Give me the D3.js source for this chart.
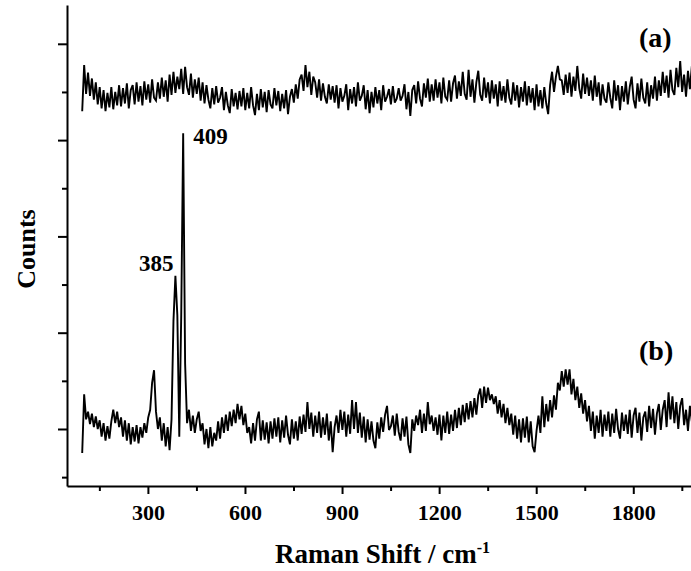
<!DOCTYPE html>
<html>
<head>
<meta charset="utf-8">
<script src="https://cdn.jsdelivr.net/npm/d3@7"></script>
<style>
html,body{margin:0;padding:0;background:#fff;}
svg{display:block;}
text{font-family:"Liberation Serif","Times New Roman",serif;font-weight:bold;fill:#000;}
</style>
</head>
<body>
<svg id="chart" width="691" height="571"></svg>
<script>
// Raman shift sampling (cm-1): first sample and spacing
const shiftStart = 97;
const shiftStep = 6;

// spectrum (a), counts (arbitrary units)
const countsA = [
330,378,348,370,346,364,342,360,337,355,
333,352,330,349,334,355,332,350,336,357,
335,354,338,359,333,352,357,337,360,340,
356,336,361,342,358,339,363,344,341,360,
343,365,345,362,340,368,347,371,349,366,
353,374,348,376,355,347,369,344,363,348,
365,341,360,338,357,342,333,354,337,356,
339,344,355,331,350,336,328,353,335,349,
332,351,335,354,331,349,333,355,336,326,
348,331,353,334,350,329,352,337,333,354,
336,351,330,348,333,352,327,345,353,339,
358,343,363,368,351,378,355,371,347,366,
360,344,363,341,359,345,338,358,342,356,
339,357,333,354,340,346,358,331,353,338,
355,335,360,341,346,357,332,352,328,350,
334,355,338,352,331,357,340,345,353,337,
356,339,343,354,341,346,358,332,350,325,
352,357,338,361,343,335,359,344,364,340,
358,341,363,344,360,338,365,345,342,362,
340,359,367,343,361,346,371,348,342,373,
345,363,339,360,372,347,341,365,344,360,
338,362,343,358,335,361,341,356,339,363,
344,337,360,341,357,334,355,340,361,336,
356,339,354,331,358,335,352,333,355,338,
327,357,371,350,366,377,363,362,347,368,
349,370,345,366,351,377,354,343,369,348,
365,346,362,341,367,345,360,336,358,343,
339,360,344,333,362,341,357,331,356,340,
361,337,355,366,342,333,359,340,364,344,
338,360,335,357,343,366,341,362,346,371,
349,367,344,373,352,347,375,355,382,350,
368,345,372,353,377,351,370,355
];

// spectrum (b), counts (arbitrary units)
const countsB = [
-25,36,10,18,5,16,2,13,0,9,
-8,6,-12,3,-10,8,20,6,18,2,
12,-8,9,-12,6,-16,2,-13,4,-15,
2,-9,6,-4,12,20,48,61,18,0,
12,-12,6,-18,2,-22,10,112,159,118,
-8,118,307,68,6,20,-2,14,-4,10,
18,-2,6,-16,0,-20,2,-18,-4,-12,
8,-10,12,-4,15,-2,18,3,20,6,
26,10,24,4,16,-4,2,-15,6,-12,
10,18,-12,9,-11,7,-15,8,-10,11,
-8,12,-14,9,-9,14,-6,-16,10,-10,
8,-12,13,-5,15,-3,28,0,17,-8,
14,-4,18,-9,12,-6,16,-12,8,-24,
2,14,-4,20,-1,18,-8,15,-5,30,
0,28,-4,17,-9,13,-14,10,-11,8,
-12,-20,7,-10,12,-3,15,24,-1,3,
14,-7,16,-3,-12,11,-8,13,-16,-25,
10,-2,14,4,20,-4,16,-2,28,5,
14,-2,12,-6,15,-12,14,-4,18,-5,
15,-2,20,1,22,4,25,7,27,10,
29,12,32,15,35,42,22,44,27,43,
30,36,26,34,16,30,12,26,6,22,
4,16,-6,14,-10,10,-14,11,-9,13,
-14,8,-18,-24,-2,14,-4,34,2,26,
8,30,12,35,20,48,40,60,44,62,
46,62,36,52,30,44,22,37,16,30,
8,24,-2,18,-10,14,-4,20,-8,15,
-2,18,-8,16,-4,21,0,-10,17,-2,
15,-5,20,-9,14,22,-4,17,-12,12,
18,-3,24,1,21,-6,16,26,-1,20,
30,2,38,10,34,6,28,0,24,32,
4,20,-2,24,8,26,12,22
];

// axis ticks
const xMajorTicks = [300, 600, 900, 1200, 1500, 1800];
const xMinorTicks = [150, 450, 750, 1050, 1350, 1650, 1950];
const yMajorTicks = [0, 100, 200, 300, 400];
const yMinorTicks = [-50, 50, 150, 250, 350];

// annotations
const peakLabels = ["385", "409"];
const peakShifts = [385, 409];
const peakCounts = [159, 307];
const seriesLabels = ["(a)", "(b)"];
const seriesLabelCounts = [397, 72];

(function () {
const svg = d3.select("#chart");
const mLeft = 67, mRight = 698, mTop = 5, mBottom = 486;

const x = d3.scaleLinear().domain([50, 2000]).range([mLeft, mRight]);
const y = d3.scaleLinear().domain([-59.2, 440.3]).range([mBottom, mTop]);

const ramanShift = countsA.map((_, i) => shiftStart + i * shiftStep);

const line = d3.line()
  .x((d, i) => x(ramanShift[i]))
  .y(d => y(d));

// spectra
[countsA, countsB].forEach(s => {
  svg.append("path")
    .datum(s)
    .attr("fill", "none")
    .attr("stroke", "#000")
    .attr("stroke-width", 1.9)
    .attr("stroke-linejoin", "miter")
    .attr("stroke-miterlimit", 3)
    .attr("d", line);
});

// x axis
const xAxis = svg.append("g").attr("transform", `translate(0,${mBottom})`);
xAxis.call(d3.axisBottom(x).tickValues(xMajorTicks).tickFormat(d3.format("d"))
  .tickSize(8).tickPadding(10).tickSizeOuter(0));
xAxis.append("g").call(d3.axisBottom(x).tickValues(xMinorTicks).tickSize(5).tickFormat("").tickSizeOuter(0))
  .select(".domain").remove();
xAxis.selectAll("text")
  .style("font-size", "22px")
  .style("font-family", '"Liberation Serif","Times New Roman",serif')
  .style("font-weight", "bold");

// y axis
const yAxis = svg.append("g").attr("transform", `translate(${mLeft},0)`);
yAxis.call(d3.axisLeft(y).tickValues(yMajorTicks).tickSize(9).tickFormat("").tickSizeOuter(0));
yAxis.append("g").call(d3.axisLeft(y).tickValues(yMinorTicks).tickSize(5).tickFormat("").tickSizeOuter(0))
  .select(".domain").remove();

svg.selectAll(".domain").attr("stroke-width", 2);
svg.selectAll(".tick line").attr("stroke-width", 2);

// axis titles
const xt = svg.append("text")
  .attr("x", (mLeft + mRight) / 2)
  .attr("y", 563)
  .attr("text-anchor", "middle")
  .style("font-size", "27px");
xt.append("tspan").text("Raman Shift / cm");
xt.append("tspan").attr("dy", -10).style("font-size", "16px").text("-1");

svg.append("text")
  .attr("transform", "translate(35,249) rotate(-90)")
  .attr("text-anchor", "middle")
  .style("font-size", "26px")
  .text("Counts");

// peak labels
svg.append("text").attr("x", x(peakShifts[0]) - 2).attr("y", y(peakCounts[0]) - 5)
  .attr("text-anchor", "end").style("font-size", "23px").text(peakLabels[0]);
svg.append("text").attr("x", x(peakShifts[1]) + 10).attr("y", y(peakCounts[1]) + 11)
  .attr("text-anchor", "start").style("font-size", "23px").text(peakLabels[1]);

// series labels
seriesLabels.forEach((t, i) => {
  svg.append("text").attr("x", 639).attr("y", y(seriesLabelCounts[i]))
    .attr("text-anchor", "start").style("font-size", "28px").text(t);
});
})();
</script>
</body>
</html>
